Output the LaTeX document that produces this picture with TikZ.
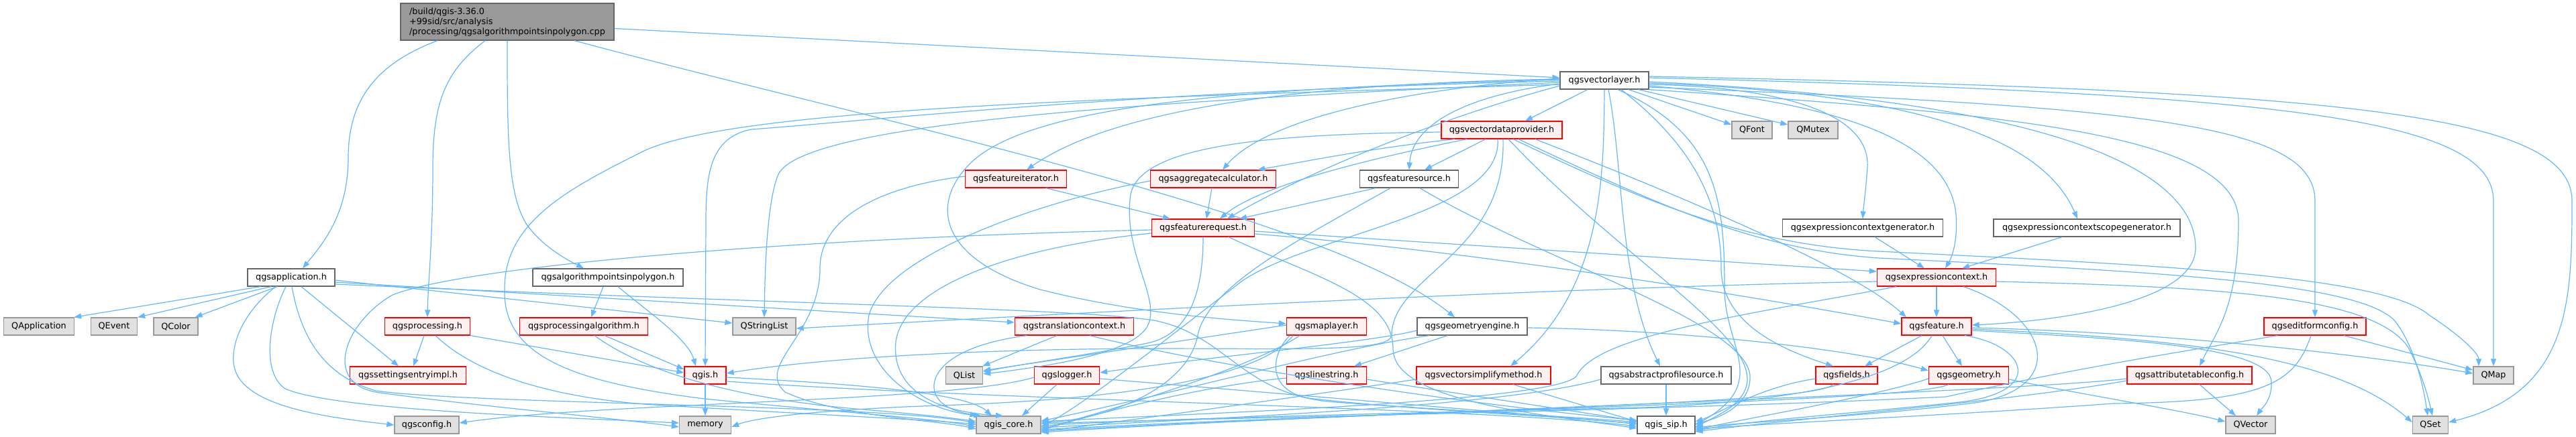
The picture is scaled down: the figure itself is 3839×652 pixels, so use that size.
\documentclass[tikz,border=0pt]{standalone}
\usepackage{fontspec}
\setmainfont{DejaVu Sans}
\usetikzlibrary{arrows.meta}
\definecolor{edgeblue}{HTML}{63B8FF}
\definecolor{redfill}{HTML}{FFF0F0}
\definecolor{redline}{HTML}{FF0000}
\definecolor{grayfill}{HTML}{E0E0E0}
\definecolor{grayline}{HTML}{999999}
\definecolor{darkline}{HTML}{666666}
\definecolor{rootfill}{HTML}{999999}
\tikzset{
  base/.style={rectangle, inner sep=0pt, minimum height=26pt, line width=1.3pt, text=black},
  rednode/.style={base, draw=redline, fill=redfill},
  whitenode/.style={base, draw=darkline, fill=white},
  graynode/.style={base, draw=grayline, fill=grayfill},
  rootnode/.style={base, draw=darkline, fill=rootfill},
  ed/.style={draw=edgeblue, line width=1.2pt, -{Triangle[length=11pt,width=8pt]}}
}
\begin{document}
\begin{tikzpicture}[x=1pt,y=-1pt,font=\fontsize{12.8}{15}\selectfont]
\useasboundingbox (0,0) rectangle (3839,652);
\fill[white] (0,0) rectangle (3839,652);

% ---- nodes ----
\node[rootnode, minimum width=318pt, minimum height=55pt, align=left] (root) at (756,32.5)
  {/build/qgis-3.36.0\\+99sid/src/analysis\\/processing/qgsalgorithmpointsinpolygon.cpp};
\node[whitenode, minimum width=132pt] (vl) at (2391,120) {qgsvectorlayer.h};
\node[rednode, minimum width=180pt] (vdp) at (2238,194) {qgsvectordataprovider.h};
\node[graynode, minimum width=60pt] (qfont) at (2611,194) {QFont};
\node[graynode, minimum width=74pt] (qmutex) at (2702,194) {QMutex};
\node[rednode, minimum width=151pt] (fit) at (1514,267) {qgsfeatureiterator.h};
\node[rednode, minimum width=187pt] (agg) at (1808,267) {qgsaggregatecalculator.h};
\node[whitenode, minimum width=147pt] (fsrc) at (2100,267) {qgsfeaturesource.h};
\node[rednode, minimum width=153pt] (freq) at (1793,340) {qgsfeaturerequest.h};
\node[whitenode, minimum width=239pt] (ecg) at (2776,340) {qgsexpressioncontextgenerator.h};
\node[whitenode, minimum width=278pt] (ecsg) at (3110,340) {qgsexpressioncontextscopegenerator.h};
\node[whitenode, minimum width=130pt] (app) at (434,414) {qgsapplication.h};
\node[whitenode, minimum width=224pt] (alg) at (906,414) {qgsalgorithmpointsinpolygon.h};
\node[rednode, minimum width=177pt] (ec) at (2886,414) {qgsexpressioncontext.h};
\node[graynode, minimum width=105pt] (qapp) at (58,487) {QApplication};
\node[graynode, minimum width=69pt] (qevent) at (170,487) {QEvent};
\node[graynode, minimum width=66pt] (qcolor) at (262,487) {QColor};
\node[rednode, minimum width=127pt] (proc) at (637,487) {qgsprocessing.h};
\node[rednode, minimum width=191pt] (palg) at (870,487) {qgsprocessingalgorithm.h};
\node[graynode, minimum width=94pt] (qsl) at (1139,487) {QStringList};
\node[rednode, minimum width=177pt] (trans) at (1601,487) {qgstranslationcontext.h};
\node[rednode, minimum width=119pt] (ml) at (1977,487) {qgsmaplayer.h};
\node[whitenode, minimum width=164pt] (geng) at (2194,487) {qgsgeometryengine.h};
\node[rednode, minimum width=104pt] (feat) at (2886,487) {qgsfeature.h};
\node[rednode, minimum width=152pt] (efc) at (3450,487) {qgseditformconfig.h};
\node[rednode, minimum width=173pt] (settings) at (608,560) {qgssettingsentryimpl.h};
\node[rednode, minimum width=62pt] (qgis) at (1051,560) {qgis.h};
\node[graynode, minimum width=55pt] (qlist) at (1437,560) {QList};
\node[rednode, minimum width=97pt] (logger) at (1590,560) {qgslogger.h};
\node[rednode, minimum width=119pt] (ls) at (1977,560) {qgslinestring.h};
\node[rednode, minimum width=200pt] (vsm) at (2211,560) {qgsvectorsimplifymethod.h};
\node[whitenode, minimum width=194pt] (aps) at (2483,560) {qgsabstractprofilesource.h};
\node[rednode, minimum width=92pt] (fields) at (2752,560) {qgsfields.h};
\node[rednode, minimum width=119pt] (geom) at (2934,560) {qgsgeometry.h};
\node[rednode, minimum width=186pt] (atc) at (3263,560) {qgsattributetableconfig.h};
\node[graynode, minimum width=60pt] (qmap) at (3716,560) {QMap};
\node[graynode, minimum width=96pt] (config) at (636,634) {qgsconfig.h};
\node[graynode, minimum width=77pt] (memory) at (1051,634) {memory};
\node[graynode, minimum width=96pt] (core) at (1503,634) {qgis\_core.h};
\node[whitenode, minimum width=86pt] (sip) at (2483,634) {qgis\_sip.h};
\node[graynode, minimum width=74pt] (qvector) at (3354,634) {QVector};
\node[graynode, minimum width=53pt] (qset) at (3622,634) {QSet};

% ---- root ----
\draw[ed] ([xshift=-104pt]root.south) .. controls (560,95) and (519,150) .. (519,235) .. controls (519,320) and (480,365) .. ([xshift=17pt]app.north);
\draw[ed] ([xshift=-33pt]root.south) .. controls (665,105) and (645,150) .. (645,250) .. controls (645,360) and (638,420) .. (proc.north);
\draw[ed] (root.south) .. controls (756,200) and (756,290) .. (785,335) .. controls (810,370) and (850,390) .. ([xshift=-36pt]alg.north);
\draw[ed] ([xshift=100pt]root.south) .. controls (1300,180) and (1980,320) .. ([xshift=-26pt]geng.north);
\draw[ed] ([yshift=-10pt]root.east) -- ([yshift=4pt]vl.west);

% ---- qgsapplication ----
\draw[ed] ([xshift=-46pt]app.south) -- ([xshift=-1pt]qapp.north east);
\draw[ed] ([xshift=-30pt]app.south) -- (qevent.north east);
\draw[ed] ([xshift=-21pt]app.south) -- ([xshift=-5pt]qcolor.north east);
\draw[ed] ([xshift=-23pt]app.south) .. controls (375,455) and (345,500) .. (348,540) .. controls (352,605) and (480,622) .. (config.west);
\draw[ed] ([xshift=-8pt]app.south) .. controls (402,475) and (388,555) .. (425,580) .. controls (500,612) and (820,622) .. ([yshift=3pt]memory.west);
\draw[ed] ([xshift=1pt]app.south) .. controls (448,500) and (480,560) .. (560,583) .. controls (700,603) and (1300,603) .. ([yshift=3pt]core.west);
\draw[ed] ([xshift=15pt]app.south) -- ([xshift=-14pt]settings.north);
\draw[ed] ([yshift=-4pt]app.east) -- ([yshift=5pt]qsl.west);
\draw[ed] ([yshift=-7pt]app.east) -- ([yshift=6pt]trans.west);
\draw[ed] ([yshift=-10pt]app.east) .. controls (1200,455) and (1600,460) .. (1720,478) .. controls (1830,500) and (1850,590) .. (1990,600) .. controls (2200,615) and (2350,622) .. ([yshift=4pt]sip.west);

% ---- processing ----
\draw[ed] ([xshift=-5pt]proc.south) -- ([xshift=8pt]settings.north);
\draw[ed] (proc.south east) -- ([yshift=4pt]qgis.west);
\draw[ed] ([xshift=12pt]proc.south) .. controls (700,550) and (800,590) .. (960,603) .. controls (1200,618) and (1380,626) .. ([yshift=1pt]core.west);
\draw[ed] ([xshift=-7pt]alg.south) -- ([xshift=11pt]palg.north);
\draw[ed] ([xshift=15pt]alg.south) .. controls (965,465) and (1025,505) .. ([xshift=-14pt]qgis.north);
\draw[ed] ([xshift=31pt]palg.south) -- ([yshift=9pt]qgis.west);
\draw[ed] ([xshift=16pt]palg.south) .. controls (960,555) and (1100,597) .. (1300,612) .. controls (1390,620) and (1430,625) .. ([yshift=5pt]core.west);

% ---- qgis ----
\draw[ed] (qgis.south) -- (memory.north);
\draw[ed] ([yshift=-3pt]qgis.east) .. controls (1260,572) and (1440,585) .. ([xshift=-25pt]core.north);
\draw[ed] ([yshift=-9pt]qgis.east) .. controls (1500,598) and (2200,608) .. ([yshift=-2pt]sip.west);

% ---- translation context ----
\draw[ed] ([xshift=-26pt]trans.south) -- ([xshift=-1pt]qlist.north east);
\draw[ed] ([xshift=-71pt]trans.south) .. controls (1420,515) and (1385,555) .. (1393,585) .. controls (1400,608) and (1430,615) .. ([xshift=2pt]core.north west);
\draw[ed] ([xshift=23pt]trans.south) .. controls (1780,540) and (2150,600) .. ([yshift=7pt]sip.west);

% ---- vector layer, left side ----
\draw[ed] ([yshift=-3pt]vl.west) .. controls (1750,150) and (1200,180) .. (1160,260) .. controls (1143,300) and (1140,400) .. (qsl.north);
\draw[ed] ([yshift=-1pt]vl.west) .. controls (1700,135) and (1300,180) .. (1120,193) .. controls (1058,205) and (1052,260) .. (1052,330) -- (qgis.north);
\draw[ed] ([yshift=-6pt]vl.west) .. controls (1700,145) and (1100,160) .. (960,225) .. controls (850,280) and (752,330) .. (752,430) .. controls (748,530) and (850,570) .. (1050,595) .. controls (1250,615) and (1400,625) .. ([yshift=-3pt]core.west);
\draw[ed] ([yshift=1pt]vl.west) .. controls (1900,130) and (1550,150) .. (1450,240) .. controls (1385,300) and (1395,385) .. (1550,432) .. controls (1700,470) and (1850,478) .. ([yshift=4pt]ml.west);
\draw[ed] ([yshift=2pt]vl.west) .. controls (1900,125) and (1650,170) .. ([xshift=16pt]fit.north);
\draw[ed] ([yshift=3pt]vl.west) .. controls (2060,135) and (1880,185) .. ([xshift=14pt]agg.north);
\draw[ed] ([xshift=-25pt]vl.south) -- ([xshift=35pt]vdp.north);
\draw[ed] ([yshift=-5pt]vl.west) .. controls (2200,140) and (2105,180) .. (fsrc.north);
\draw[ed] ([yshift=-8pt]vl.west) .. controls (2150,175) and (1950,255) .. ([xshift=36pt]freq.north);

% ---- vector data provider ----
\draw[ed] ([xshift=-52pt]vdp.south) .. controls (2050,235) and (1880,275) .. ([xshift=25pt]freq.north);
\draw[ed] ([xshift=-70pt]vdp.south) .. controls (2050,220) and (1950,240) .. ([xshift=-28pt]agg.north east);
\draw[ed] ([xshift=-24pt]vdp.south) -- ([xshift=23pt]fsrc.north);
\draw[ed] ([yshift=-3pt]vdp.west) .. controls (1900,200) and (1700,215) .. (1685,290) .. controls (1672,380) and (1735,450) .. (1708,490) .. controls (1680,530) and (1550,548) .. ([yshift=2pt]qlist.east);
\draw[ed] ([xshift=-6pt]vdp.south) .. controls (2240,320) and (1950,350) .. (1850,420) .. controls (1720,520) and (1620,600) .. ([yshift=-3pt]core.east);
\draw[ed] ([xshift=2pt]vdp.south) .. controls (2245,380) and (2075,410) .. (2074,500) .. controls (2072,525) and (1950,520) .. (1700,520) .. controls (1400,522) and (1200,538) .. ([yshift=3pt]qgis.east);
\draw[ed] ([xshift=50pt]vdp.south) .. controls (2500,290) and (2760,400) .. ([xshift=-45pt]feat.north);
\draw[ed] ([xshift=10pt]vdp.south) .. controls (2420,390) and (2620,500) .. (2603,575) .. controls (2595,605) and (2560,620) .. ([yshift=-3pt]sip.east);
\draw[ed] ([xshift=17pt]vdp.south) .. controls (2450,300) and (2600,365) .. (2800,375) .. controls (3200,395) and (3550,410) .. (3620,470) .. controls (3680,510) and (3694,530) .. ([xshift=-22pt]qmap.north);
\draw[ed] ([xshift=25pt]vdp.south) .. controls (2460,300) and (2610,372) .. (2800,385) .. controls (3200,405) and (3520,420) .. (3570,480) .. controls (3600,520) and (3612,580) .. ([xshift=-4pt]qset.north);

% ---- iterator / aggregate / request / source ----
\draw[ed] ([xshift=45pt]fit.south) -- ([xshift=-49pt]freq.north);
\draw[ed] ([xshift=-2pt]agg.south) -- ([xshift=5pt]freq.north);
\draw[ed] ([yshift=4pt]fit.west) .. controls (1300,280) and (1222,330) .. (1222,400) .. controls (1222,500) and (1125,545) .. (1170,585) .. controls (1250,622) and (1400,627) .. ([yshift=-6pt]core.west);
\draw[ed] ([yshift=-3pt]agg.west) .. controls (1550,300) and (1320,380) .. (1295,470) .. controls (1280,550) and (1370,612) .. ([xshift=8pt]core.north west);
\draw[ed] ([yshift=-3pt]freq.west) .. controls (1200,355) and (700,395) .. (585,440) .. controls (515,480) and (480,570) .. (560,585) .. controls (700,605) and (900,622) .. ([yshift=-3pt]memory.west);
\draw[ed] ([yshift=-8pt]freq.west) .. controls (1500,370) and (1345,430) .. (1335,510) .. controls (1328,585) and (1400,615) .. ([xshift=-8pt]core.north);
\draw[ed] (freq.south) .. controls (1793,450) and (1765,500) .. (1710,512) .. controls (1620,530) and (1510,545) .. ([yshift=5pt]qlist.east);
\draw[ed] ([yshift=-5pt]freq.east) -- ([yshift=9pt]ec.west);
\draw[ed] ([yshift=-9pt]freq.east) .. controls (2200,375) and (2600,440) .. ([yshift=4pt]feat.west);
\draw[ed] ([xshift=38pt]freq.south) .. controls (1950,410) and (2076,440) .. (2076,520) .. controls (2076,600) and (2300,618) .. ([yshift=-5pt]sip.west);
\draw[ed] ([xshift=-50pt]fsrc.south) -- ([xshift=54pt]freq.north);
\draw[ed] ([xshift=-28pt]fsrc.south) .. controls (1950,350) and (1800,425) .. (1785,500) .. controls (1770,580) and (1650,625) .. ([yshift=3pt]core.east);
\draw[ed] ([xshift=16pt]fsrc.south) .. controls (2300,390) and (2600,480) .. (2608,560) .. controls (2610,600) and (2570,622) .. ([yshift=2pt]sip.east);

% ---- map layer / geometry engine / small headers ----
\draw[ed] ([yshift=2pt]ml.west) -- ([yshift=7pt]qlist.east);
\draw[ed] ([xshift=-55pt]ml.south) .. controls (1893,530) and (1888,582) .. (1950,594) .. controls (2100,612) and (2350,622) .. ([yshift=1pt]sip.west);
\draw[ed] ([xshift=-40pt]ml.south) .. controls (1880,540) and (1700,600) .. ([yshift=-6pt]core.east);
\draw[ed] ([xshift=-50pt]ml.south) .. controls (1880,560) and (1700,595) .. (1400,605) .. controls (1200,612) and (1120,625) .. ([yshift=-3pt]memory.east);
\draw[ed] ([xshift=-37pt]geng.south) -- ([xshift=41pt]ls.north);
\draw[ed] ([xshift=-64pt]geng.south) .. controls (1990,520) and (1760,585) .. ([yshift=6pt]core.east);
\draw[ed] ([yshift=-6pt]geng.west) .. controls (2050,510) and (1780,535) .. ([yshift=4pt]logger.east);
\draw[ed] ([yshift=-2pt]geng.east) .. controls (2500,492) and (2760,520) .. ([yshift=7pt]geom.west);
\draw[ed] ([yshift=-4pt]ls.west) .. controls (1800,575) and (1650,612) .. ([yshift=-8pt]core.east);
\draw[ed] ([yshift=-6pt]ls.east) -- ([yshift=6pt]sip.west);
\draw[ed] ([xshift=44pt]vsm.south) -- ([yshift=5pt]sip.west);
\draw[ed] ([yshift=-6pt]vsm.west) .. controls (1950,590) and (1700,625) .. ([yshift=-10pt]core.east);
\draw[ed] (aps.south) -- (sip.north);
\draw[ed] ([yshift=-6pt]aps.west) .. controls (2250,605) and (1850,622) .. ([yshift=-4pt]core.east);
\draw[ed] ([yshift=-5pt]fields.west) .. controls (2620,578) and (2560,618) .. ([yshift=5pt]sip.east);
\draw[ed] ([xshift=-20pt]fields.south) .. controls (2700,605) and (2100,610) .. ([yshift=-11pt]core.east);
\draw[ed] ([yshift=-5pt]geom.west) .. controls (2800,590) and (2600,625) .. ([yshift=-7pt]sip.east);
\draw[ed] ([xshift=-30pt]geom.south) .. controls (2850,600) and (2100,612) .. ([yshift=-7pt]core.east);
\draw[ed] ([yshift=-6pt]geom.east) .. controls (3100,588) and (3250,612) .. ([yshift=5pt]qvector.west);
\draw[ed] ([xshift=-15pt]logger.south) -- ([xshift=20pt]core.north);
\draw[ed] ([yshift=-3pt]logger.west) .. controls (1420,600) and (900,600) .. ([yshift=3pt]config.east);
\draw[ed] ([yshift=-5pt]logger.east) .. controls (1800,578) and (2200,612) .. ([yshift=2pt]sip.west);

% ---- feature ----
\draw[ed] ([xshift=-22pt]feat.south) -- ([xshift=27pt]fields.north);
\draw[ed] ([xshift=9pt]feat.south) -- ([xshift=-10pt]geom.north);
\draw[ed] ([xshift=-7pt]feat.south) .. controls (2845,560) and (2700,598) .. (2450,608) .. controls (2000,618) and (1700,626) .. ([yshift=-1pt]core.east);
\draw[ed] ([xshift=42pt]feat.south) .. controls (3020,515) and (3050,585) .. (2920,600) .. controls (2750,618) and (2600,628) .. ([yshift=-9pt]sip.east);
\draw[ed] ([yshift=-2pt]feat.east) .. controls (3200,495) and (3500,525) .. ([yshift=3pt]qmap.west);
\draw[ed] ([yshift=-6pt]feat.east) .. controls (3150,505) and (3385,515) .. (3385,570) .. controls (3386,598) and (3370,610) .. ([xshift=9pt]qvector.north);
\draw[ed] ([yshift=-4pt]feat.east) .. controls (3250,505) and (3480,530) .. ([yshift=4pt]qset.west);

% ---- expression context ----
\draw[ed] (ec.south) -- (feat.north);
\draw[ed] ([yshift=-6pt]ec.west) .. controls (2300,430) and (1700,462) .. ([yshift=-3pt]qsl.east);
\draw[ed] ([xshift=-60pt]ec.south) .. controls (2600,470) and (2380,500) .. (2350,560) .. controls (2330,600) and (1750,618) .. ([yshift=5pt]core.east);
\draw[ed] ([xshift=40pt]ec.south) .. controls (3050,470) and (3085,575) .. (2950,600) .. controls (2800,620) and (2600,630) .. ([yshift=-4pt]sip.east);
\draw[ed] ([yshift=-6pt]ec.east) .. controls (3300,428) and (3540,440) .. (3590,520) .. controls (3610,560) and (3618,590) .. ([xshift=3pt]qset.north);
\draw[ed] ([xshift=18pt]ecg.south) -- ([xshift=-18pt]ec.north);
\draw[ed] ([xshift=-37pt]ecsg.south) -- ([xshift=38pt]ec.north);

% ---- vector layer, right side ----
\draw[ed] ([xshift=36pt]vl.south) -- ([yshift=8pt]qfont.west);
\draw[ed] ([xshift=51pt]vl.south) -- ([yshift=8pt]qmutex.west);
\draw[ed] ([yshift=-6pt]vl.east) .. controls (2660,130) and (2788,170) .. (2783,250) .. controls (2780,290) and (2777,310) .. (ecg.north);
\draw[ed] ([yshift=-8pt]vl.east) .. controls (2760,155) and (2905,215) .. (2915,320) .. controls (2918,362) and (2908,385) .. ([xshift=13pt]ec.north);
\draw[ed] ([yshift=-4pt]vl.east) .. controls (2900,140) and (3050,220) .. ([xshift=-14pt]ecsg.north);
\draw[ed] ([yshift=-2pt]vl.east) .. controls (3050,150) and (3272,250) .. (3272,370) .. controls (3272,455) and (3050,480) .. ([yshift=2pt]feat.east);
\draw[ed] ([xshift=25pt]vl.south) .. controls (2500,200) and (2565,280) .. (2565,400) .. controls (2565,480) and (2650,520) .. ([xshift=-20pt]fields.north);
\draw[ed] (vl.south) .. controls (2390,260) and (2390,430) .. ([xshift=40pt]vsm.north);
\draw[ed] ([xshift=6pt]vl.south) .. controls (2420,250) and (2412,420) .. ([xshift=-9pt]aps.north);
\draw[ed] ([xshift=20pt]vl.south) .. controls (2560,200) and (2570,300) .. (2570,430) .. controls (2570,520) and (2640,570) .. (sip.east);
\draw[ed] ([yshift=-10pt]vl.east) .. controls (3200,160) and (3450,185) .. (3450,300) -- (efc.north);
\draw[ed] ([yshift=4pt]vl.east) .. controls (3400,140) and (3716,175) .. (3716,300) -- (qmap.north);
\draw[ed] ([yshift=6pt]vl.east) .. controls (3500,135) and (3833,170) .. (3833,300) .. controls (3833,450) and (3830,585) .. ([yshift=4pt]qset.east);
\draw[ed] (vl.south east) .. controls (3000,170) and (3336,200) .. (3336,330) .. controls (3336,460) and (3300,500) .. ([xshift=15pt]atc.north);

% ---- edit form / attribute table ----
\draw[ed] ([xshift=43pt]efc.south) -- ([yshift=8pt]qmap.west);
\draw[ed] ([xshift=-56pt]efc.south) .. controls (3250,525) and (3100,548) .. (2900,592) .. controls (2500,612) and (1800,624) .. ([yshift=2pt]core.east);
\draw[ed] ([xshift=-6pt]efc.south) .. controls (3420,570) and (3380,600) .. (3150,602) .. controls (2900,620) and (2700,628) .. ([yshift=-6pt]sip.east);
\draw[ed] ([xshift=15pt]atc.south) -- ([xshift=-22pt]qvector.north);
\draw[ed] ([yshift=-5pt]atc.west) .. controls (3000,585) and (2000,618) .. ([yshift=-9pt]core.east);
\draw[ed] ([yshift=-8pt]atc.west) .. controls (3000,598) and (2700,622) .. ([yshift=-10pt]sip.east);
\end{tikzpicture}
\end{document}
